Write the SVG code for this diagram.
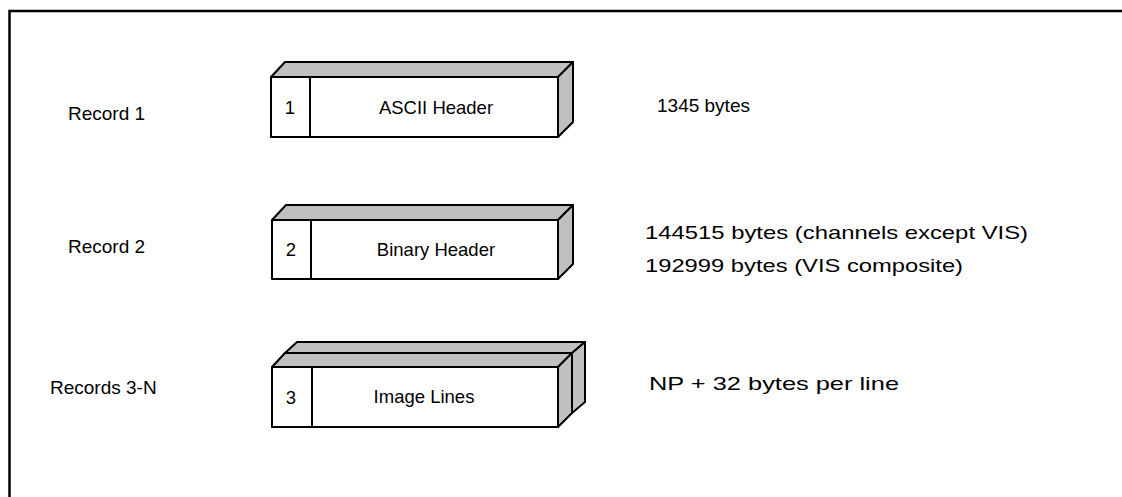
<svg xmlns="http://www.w3.org/2000/svg" width="1122" height="497" viewBox="0 0 1122 497">
<style>
  text { font-family: "Liberation Sans", Arial, sans-serif; font-size: 19px; fill: #000; }
  .face { fill: #fff; stroke: #000; stroke-width: 2; stroke-linejoin: round; }
  .side { fill: #c0c0c0; stroke: #000; stroke-width: 2; stroke-linejoin: round; }
  .mid { text-anchor: middle; font-size: 18.5px; }
</style>
<rect x="0" y="0" width="1122" height="497" fill="#fff"/>
<rect id="frame" x="9.5" y="11" width="1130" height="500" fill="none" stroke="#000" stroke-width="2.5"/>

<g id="record1">
  <polygon class="side" points="271,77 285,62 573,62 558,77"/>
  <polygon class="side" points="558,77 573,62 573,122 558,137"/>
  <rect class="face" x="271" y="77" width="287" height="60"/>
  <line x1="310" y1="77" x2="310" y2="137" stroke="#000" stroke-width="2"/>
  <text x="290" y="114" class="mid">1</text>
  <text x="436" y="114" class="mid">ASCII Header</text>
</g>

<g id="record2">
  <polygon class="side" points="272,220 286,205 573,205 558,220"/>
  <polygon class="side" points="558,220 573,205 573,264 558,279"/>
  <rect class="face" x="272" y="220" width="286" height="59"/>
  <line x1="311" y1="220" x2="311" y2="279" stroke="#000" stroke-width="2"/>
  <text x="291" y="256" class="mid">2</text>
  <text x="436" y="256" class="mid">Binary Header</text>
</g>

<g id="records3">
  <polygon class="side" points="285,353 297,342 585,342 572,353"/>
  <polygon class="side" points="572,353 585,342 585,402 572,413"/>
  <polygon class="side" points="272,367 285,353 572,353 558,367"/>
  <polygon class="side" points="558,367 572,353 572,413 558,427"/>
  <rect class="face" x="272" y="367" width="286" height="60"/>
  <line x1="312" y1="367" x2="312" y2="427" stroke="#000" stroke-width="2"/>
  <text x="291" y="404" class="mid">3</text>
  <text x="424" y="403" class="mid">Image Lines</text>
</g>

<g id="labels">
  <text x="68" y="120">Record 1</text>
  <text x="68" y="253">Record 2</text>
  <text x="50" y="394">Records 3-N</text>
  <text x="657" y="112">1345 bytes</text>
  <text x="645" y="239" textLength="383" lengthAdjust="spacingAndGlyphs">144515 bytes (channels except VIS)</text>
  <text x="645" y="272" textLength="318" lengthAdjust="spacingAndGlyphs">192999 bytes (VIS composite)</text>
  <text x="649" y="390" textLength="250" lengthAdjust="spacingAndGlyphs">NP + 32 bytes per line</text>
</g>
<g id="connectors"></g>
</svg>
